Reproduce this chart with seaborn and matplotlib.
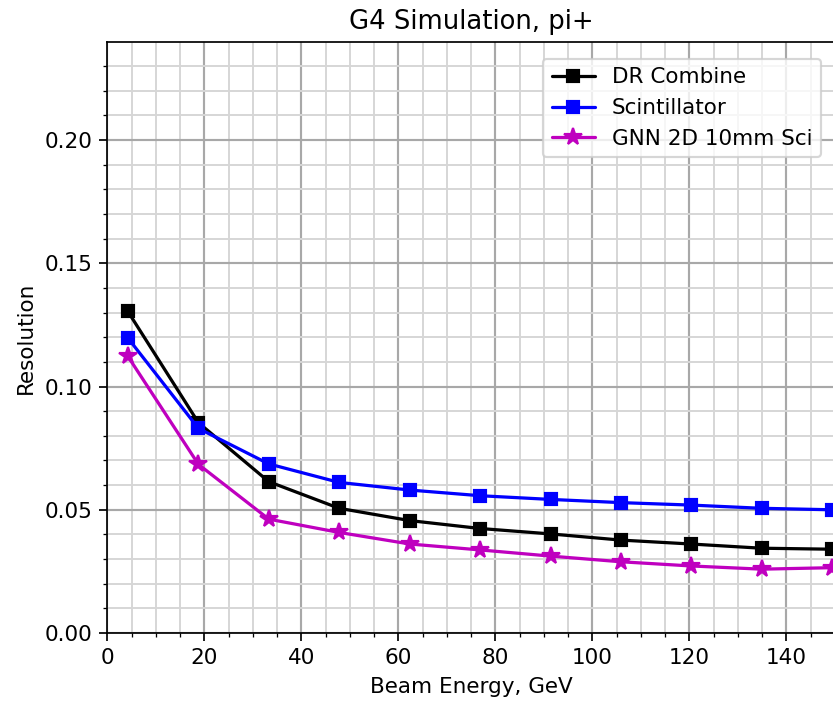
import matplotlib
matplotlib.use("Agg")
import matplotlib.pyplot as plt
from matplotlib.ticker import MultipleLocator, FormatStrFormatter
import seaborn as sns
import pandas as pd

# Beam energies (GeV) and energy resolution for each reconstruction
energy = [4.2, 18.8, 33.3, 47.8, 62.4, 76.9, 91.4, 105.9, 120.4, 134.9, 149.4]
dr_combine = [0.1306, 0.0853, 0.0614, 0.0506, 0.0456, 0.0424, 0.0402, 0.0377, 0.0361, 0.0344, 0.0340]
scintillator = [0.1198, 0.0830, 0.0686, 0.0611, 0.0580, 0.0557, 0.0542, 0.0529, 0.0519, 0.0506, 0.0500]
gnn_2d_sci = [0.1124, 0.0684, 0.0462, 0.0408, 0.0361, 0.0337, 0.0312, 0.0289, 0.0272, 0.0259, 0.0265]

series_names = ["DR Combine", "Scintillator", "GNN 2D 10mm Sci"]
series_values = [dr_combine, scintillator, gnn_2d_sci]
series_colors = ["black", "#0000ff", "#bf00bf"]
series_markers = ["s", "s", "*"]
series_msize = [6.0, 6.0, 8.5]

sns.set_style("ticks")
plt.rcParams["font.family"] = ["DejaVu Sans"]
plt.rcParams["font.size"] = 10
plt.rcParams["text.color"] = "black"
plt.rcParams["axes.labelcolor"] = "black"

DPI = 155
fig = plt.figure(figsize=(833 / DPI, 702 / DPI), dpi=DPI)
ax = fig.add_axes([107.3 / 833, 1 - 633 / 702, (834.8 - 107.3) / 833, (633 - 42) / 702])

for name, vals, col, mk, ms in zip(series_names, series_values, series_colors,
                                   series_markers, series_msize):
    df = pd.DataFrame({"energy": energy, "resolution": vals})
    sns.lineplot(data=df, x="energy", y="resolution", ax=ax, color=col,
                 marker=mk, markersize=ms, markeredgecolor=col,
                 markerfacecolor=col, markeredgewidth=1.0, linewidth=1.5,
                 label=name)

ax.set_xlim(0, 150)
ax.set_ylim(0, 0.2398)
ax.xaxis.set_major_locator(MultipleLocator(20))
ax.xaxis.set_minor_locator(MultipleLocator(5))
ax.yaxis.set_major_locator(MultipleLocator(0.05))
ax.yaxis.set_minor_locator(MultipleLocator(0.01))
ax.yaxis.set_major_formatter(FormatStrFormatter("%.2f"))

ax.grid(which="major", color="#a8a8a8", linewidth=1.0)
ax.grid(which="minor", color="#d6d6d6", linewidth=0.9)
ax.set_axisbelow(True)

ax.tick_params(which="major", direction="out", length=3.5, width=0.8, labelsize=10,
               colors="black")
ax.tick_params(which="minor", direction="out", length=2, width=0.6, colors="black")
for sp in ax.spines.values():
    sp.set_visible(True)
    sp.set_color("black")
    sp.set_linewidth(0.8)

ax.set_xlabel("Beam Energy, GeV", fontsize=10, color="black")
ax.set_ylabel("Resolution", fontsize=10, color="black")
ax.set_title("G4 Simulation, pi+", fontsize=12, color="black")

leg = ax.legend(loc="upper right", bbox_to_anchor=(0.996, 0.99), fontsize=10,
                frameon=True, framealpha=0.8, edgecolor="#cccccc", fancybox=True)
for t in leg.get_texts():
    t.set_color("black")

fig.savefig("out.png", dpi=DPI)
